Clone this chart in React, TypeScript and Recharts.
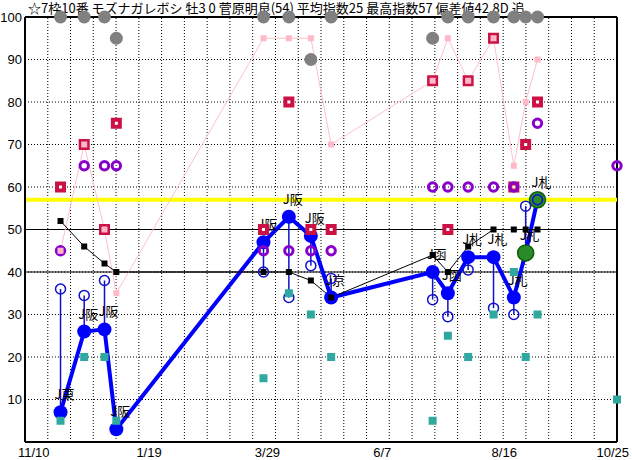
import type { Key } from 'react'
import { CartesianGrid, ComposedChart, ErrorBar, Line, ReferenceLine, XAxis, YAxis } from 'recharts'

const TITLE = '☆7枠10番 モズナガレボシ 牡3 0 菅原明良(54) 平均指数25 最高指数57 偏差値42.8D 追'
const TOP_INDEX = 57

// 11/10 からの日数
const raceDay = [21, 35, 47, 54, 141, 156, 169, 181, 241, 250, 262, 277, 289, 296, 303]
const venue = ['J東', 'J阪', 'J阪', 'J阪', 'J阪', 'J阪', 'J阪', 'J京', 'J函', 'J函', 'J札', 'J札', 'J札', 'J札', 'J札']
const mainIdx = [7, 26, 26.5, 3, 47, 53, 48.5, 34, 40, 35, 43.5, 43.5, 34, 44.5, 57]
const subIdx = [36, 34.5, 38, null, 40, 34, 41.5, 38.5, 33.5, 29.5, 40.5, 31.5, 30, 55.5, 57]
const greenIdx = [null, null, null, null, null, null, null, null, null, null, null, null, null, 44.5, 57]
const blackIdx = [52, 46, 42, 40, 40, 40, 38, 34, 44, 40, 46, 50, 50, 50, 50]
const pinkIdx = [45, 70, 50, 35, 95, 95, 95, 70, 85, 95, 85, 95, 65, 80, 90]
const redIdx = [60, 70, 50, 75, 50, 80, 50, 50, 85, 50, 85, 95, 60, 70, 80]
const purpleIdx = [45, 65, 65, 65, 45, 45, 45, 45, 60, 60, 60, 60, 60, null, 75]
const tealIdx = [5, 20, 20, 5, 15, 35, 30, 20, 5, 25, 20, 30, 40, 20, 30]
const grayIdx = [100, 100, 100, 95, 100, 100, 90, 100, 95, 100, 100, 100, 100, 100, 100]

// 次走予定日の分
const nextDay = 350
const nextPurple = 65
const nextTeal = 10

const tickDays = [0, 70, 140, 210, 280, 350]
const tickLabels = ['11/10', '1/19', '3/29', '6/7', '8/16', '10/25']
const yTicks = [10, 20, 30, 40, 50, 60, 70, 80, 90, 100]
const GRID_COUNT = 26

const BLUE = '#0000ff'
const NUM_FONT = '"Liberation Sans", Arial, sans-serif'
const JP_FONT = '"Noto Sans CJK JP", sans-serif'

type Row = {
  day: number
  venue?: string
  main?: number | null
  sub?: number | null
  span?: [number, number] | null
  green?: number | null
  black?: number | null
  pink?: number | null
  red?: number | null
  purple?: number | null
  teal?: number | null
  gray?: number | null
}

const rows: Row[] = raceDay.map((day, i) => {
  const m = mainIdx[i]
  const s = subIdx[i]
  return {
    day,
    venue: venue[i],
    main: m,
    sub: s,
    span: s == null ? null : s > m ? [s - m, 0] : [0, m - s],
    green: greenIdx[i],
    black: blackIdx[i],
    pink: pinkIdx[i],
    red: redIdx[i],
    purple: purpleIdx[i],
    teal: tealIdx[i],
    gray: grayIdx[i],
  }
})
rows.push({ day: nextDay, purple: nextPurple, teal: nextTeal })

const gridDays = Array.from({ length: GRID_COUNT - 1 }, (_, k) => ((k + 1) * nextDay) / GRID_COUNT)

type DotProps = { cx?: number; cy?: number | null; key?: Key | null; payload?: Row }

const has = (p: DotProps) => typeof p.cx === 'number' && typeof p.cy === 'number' && !Number.isNaN(p.cy)

// 四角マーカー
function square(size: number, fill: string, stroke?: string, sw = 0) {
  return (p: DotProps) =>
    has(p) ? (
      <rect
        key={p.key}
        x={p.cx! - size / 2}
        y={p.cy! - size / 2}
        width={size}
        height={size}
        fill={fill}
        stroke={stroke}
        strokeWidth={sw}
      />
    ) : (
      <g key={p.key} />
    )
}

function circle(r: number, fill: string, stroke?: string, sw = 0) {
  return (p: DotProps) =>
    has(p) ? <circle key={p.key} cx={p.cx} cy={p.cy!} r={r} fill={fill} stroke={stroke} strokeWidth={sw} /> : <g key={p.key} />
}

// 指数の丸 + 場所ラベル
function mainDot(p: DotProps) {
  if (!has(p)) return <g key={p.key} />
  return (
    <g key={p.key}>
      <circle cx={p.cx} cy={p.cy!} r={7} fill={BLUE} />
      <text x={p.cx! - 6} y={p.cy! - 13} fontSize={13} fontFamily={JP_FONT} fill="#000">
        {p.payload?.venue}
      </text>
    </g>
  )
}

function XTick(props: { x?: number; y?: number; payload?: { value: number }; index?: number }) {
  const { x = 0, y = 0, payload, index = 0 } = props
  if (!payload) return null
  const last = index === tickDays.length - 1
  return (
    <text
      x={last ? x + 12 : x - 7}
      y={y + 13}
      textAnchor={last ? 'end' : 'start'}
      fontSize={13}
      fontFamily={NUM_FONT}
      fill="#000"
    >
      {tickLabels[tickDays.indexOf(payload.value)]}
    </text>
  )
}

const noLine = { stroke: 'none', isAnimationActive: false, activeDot: false, connectNulls: false } as const

export default function App() {
  return (
    <div style={{ position: 'relative', width: 632, height: 460, background: '#fff' }}>
      <style>{'body{margin:0}'}</style>
      <div
        style={{
          position: 'absolute',
          left: 28,
          top: 0,
          fontSize: 13,
          lineHeight: '16px',
          fontFamily: JP_FONT,
          whiteSpace: 'nowrap',
          color: '#000',
        }}
      >
        {TITLE}
      </div>
      <div style={{ position: 'absolute', left: 0, top: 0 }}>
        <ComposedChart width={632} height={460} data={rows} margin={{ top: 17, right: 15, bottom: 0, left: 0 }}>
          <CartesianGrid vertical={false} stroke="#000" strokeDasharray="1 2" />
          {gridDays.map((d) => (
            <ReferenceLine key={d} x={d} stroke="#000" strokeDasharray="1 2" />
          ))}
          <ReferenceLine y={40} stroke="#000" />
          <ReferenceLine y={50} stroke="#000" />
          <ReferenceLine y={100} stroke="#000" strokeWidth={2} />
          <ReferenceLine x={nextDay} stroke="#000" strokeWidth={2} />
          <ReferenceLine y={TOP_INDEX} stroke="#ffff00" strokeWidth={4} />
          <XAxis
            type="number"
            dataKey="day"
            domain={[0, nextDay]}
            ticks={tickDays}
            interval={0}
            height={18}
            tickSize={0}
            tickMargin={2}
            tickLine={false}
            axisLine={{ stroke: '#000', strokeWidth: 2 }}
            tick={<XTick />}
          />
          <YAxis
            type="number"
            domain={[0, 100]}
            ticks={yTicks}
            interval={0}
            width={25}
            tickSize={0}
            tickMargin={3}
            tickLine={false}
            axisLine={{ stroke: '#000', strokeWidth: 2 }}
            tick={{ fill: '#000', fontSize: 13, fontFamily: NUM_FONT }}
          />

          {/* 縦線 */}
          <Line dataKey="sub" {...noLine} dot={false}>
            <ErrorBar dataKey="span" direction="y" width={0} stroke="#1010cc" strokeWidth={1.5} />
          </Line>
          <Line dataKey="main" stroke={BLUE} strokeWidth={4} dot={mainDot} isAnimationActive={false} activeDot={false} />
          <Line dataKey="green" {...noLine} dot={circle(8, '#2a8a2a', '#0b5e0b', 1.5)} />
          <Line dataKey="sub" {...noLine} dot={circle(5, 'none', '#1010cc', 1.5)} />
          <Line dataKey="gray" {...noLine} dot={circle(6.5, '#808080')} />
          <Line dataKey="red" {...noLine} dot={square(7, '#fff', '#cc1144', 4)} />
          <Line dataKey="purple" {...noLine} dot={circle(4.2, 'none', '#8800cc', 3)} />
          <Line
            dataKey="pink"
            stroke="#ffc0cb"
            strokeWidth={1}
            dot={square(6, '#ffb8c8')}
            isAnimationActive={false}
            activeDot={false}
          />
          <Line
            dataKey="black"
            stroke="#000"
            strokeWidth={1}
            dot={square(6, '#000')}
            isAnimationActive={false}
            activeDot={false}
          />
          <Line dataKey="teal" {...noLine} dot={square(8, '#2fa8a0')} />
        </ComposedChart>
      </div>
    </div>
  )
}
